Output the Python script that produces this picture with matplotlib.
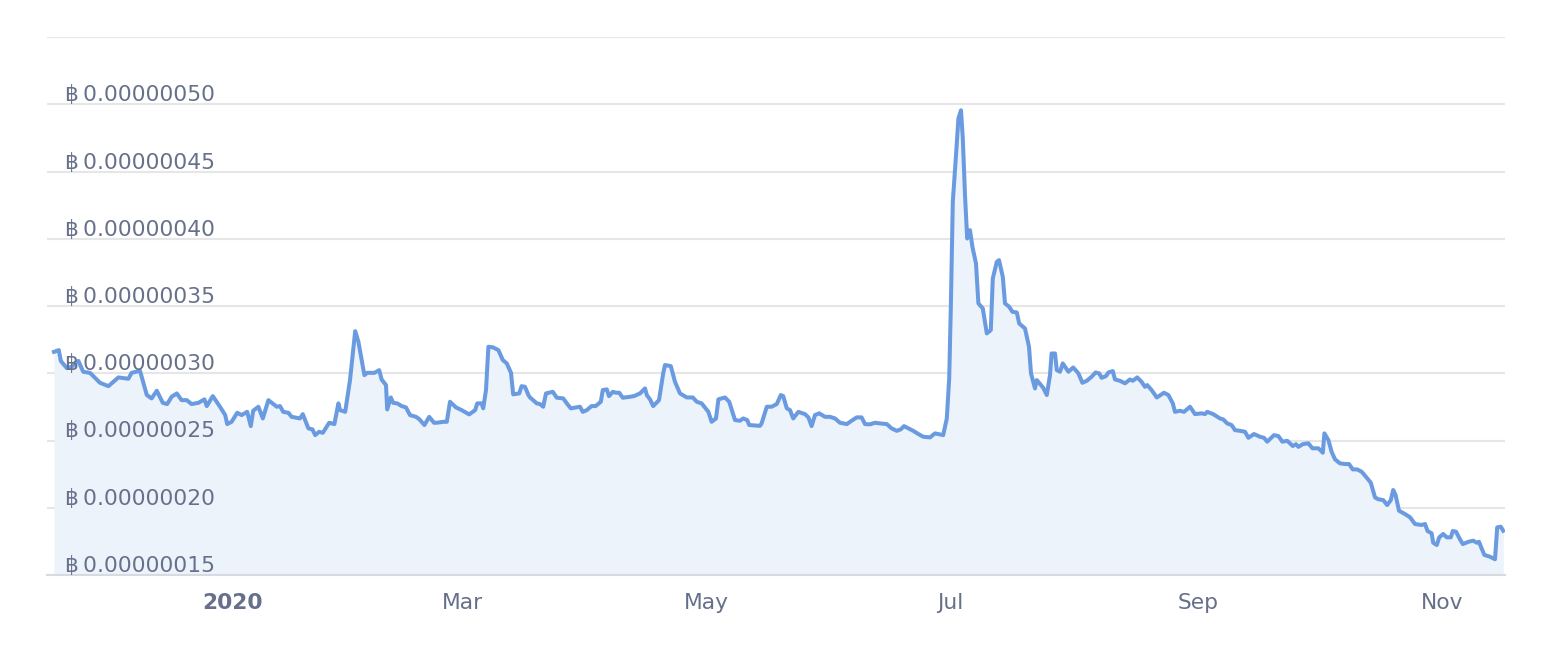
import numpy as np
import matplotlib
matplotlib.use('Agg')
import matplotlib.pyplot as plt
import matplotlib.dates as mdates
import matplotlib.transforms as mtransforms

# price, in satoshi (1e-8 BTC), at day offsets from start_date
start_date = np.datetime64('2019-11-20T00:00')

day_offsets = [
    0.0, 1.2, 1.7, 3.2, 4.4, 6.1, 7.3, 9.0, 11.5, 13.6, 16.1, 18.6, 19.4, 21.5,
    23.2, 24.4, 25.7, 27.2, 28.3, 29.4, 30.7, 31.9, 33.2, 34.4, 36.1, 37.6, 38.2,
    39.7, 41.5, 42.8, 43.3, 44.4, 45.8, 46.9, 48.3, 49.2, 49.8, 51.1, 52.2, 53.6,
    55.7, 56.5, 57.3, 58.6, 59.4, 61.5, 62.2, 63.6, 64.6, 65.3, 66.3, 67.2, 68.8,
    70.1, 71.1, 71.5, 72.8, 74.0, 75.3, 76.1, 77.6, 78.3, 80.1, 81.3, 81.9, 83.0,
    83.3, 84.2, 84.8, 85.8, 86.9, 88.0, 89.0, 90.5, 91.3, 92.6, 93.8, 95.0, 95.7,
    97.3, 98.2, 99.0, 100.5, 101.9, 103.8, 105.3, 105.8, 106.9, 107.3, 108.0,
    108.6, 109.8, 111.1, 112.2, 113.2, 114.25, 114.8, 116.3, 116.9, 117.75, 118.6,
    119.0, 120.7, 121.5, 122.3, 123.0, 124.7, 125.7, 127.3, 128.2, 129.2, 131.5,
    132.2, 133.2, 134.4, 135.4, 136.7, 137.2, 138.2, 138.75, 139.7, 140.5, 141.3,
    142.2, 144.0, 145.0, 146.5, 147.75, 148.2, 149.0, 149.8, 151.25, 152.3,
    152.75, 154.2, 155.25, 156.5, 158.2, 159.7, 160.7, 161.9, 163.6, 164.4,
    165.5, 166.1, 167.75, 168.8, 170.25, 171.5, 172.3, 173.3, 173.8, 176.5,
    176.9, 178.2, 179.4, 180.7, 181.7, 182.3, 183.2, 184.0, 184.8, 186.1, 187.75,
    188.6, 189.4, 190.25, 191.3, 192.75, 194.0, 195.25, 196.5, 198.2, 199.4,
    200.7, 201.9, 202.75, 204.0, 205.25, 206.5, 208.2, 209.4, 210.7, 211.7,
    212.5, 213.6, 214.8, 216.1, 217.3, 219.0, 220.25, 222.3, 223.2, 223.8, 224.2,
    224.7, 225.5, 226.1, 226.75, 227.2, 227.75, 228.3, 229.0, 229.6, 230.5,
    231.1, 232.2, 233.2, 234.2, 234.7, 235.7, 236.25, 237.2, 237.75, 238.8,
    239.6, 240.7, 241.3, 242.75, 243.75, 244.25, 245.25, 245.7, 247.3, 248.2,
    249.0, 249.4, 250.25, 250.7, 251.5, 252.2, 253.6, 254.8, 256.1, 257.1,
    258.2, 259.4, 260.4, 261.3, 261.9, 263.0, 263.6, 264.7, 265.25, 266.5,
    267.75, 269.0, 269.7, 270.8, 271.9, 272.75, 273.3, 274.4, 275.7, 277.5,
    278.6, 279.7, 280.25, 281.5, 282.5, 284.0, 285.25, 286.9, 287.75, 288.3,
    289.8, 291.5, 292.3, 293.3, 294.4, 295.25, 296.5, 297.75, 298.6, 300.0,
    301.5, 302.5, 303.3, 305.0, 306.1, 307.1, 308.3, 309.7, 310.5, 311.1, 312.2,
    313.6, 314.6, 316.1, 317.2, 317.6, 318.6, 319.4, 320.25, 321.5, 322.75,
    323.75, 324.7, 325.8, 326.9, 328.0, 329.2, 330.25, 331.1, 332.3, 333.3,
    334.2, 334.8, 335.4, 336.25, 337.75, 339.0, 340.25, 341.9, 342.75, 343.4,
    344.4, 344.8, 345.7, 346.3, 347.3, 348.2, 349.2, 349.7, 350.5, 351.5, 352.2,
    353.6, 354.8, 355.7, 356.25, 356.9, 357.6, 359.0, 360.25, 360.8, 361.7, 362.3,
]

price_sats = [
    31.59, 31.72, 30.92, 30.38, 30.48, 30.92, 30.11, 30.03, 29.29, 29.04, 29.69,
    29.59, 30.03, 30.18, 28.38, 28.13, 28.70, 27.80, 27.71, 28.25, 28.50, 28.00,
    28.00, 27.71, 27.80, 28.06, 27.56, 28.30, 27.51, 26.89, 26.22, 26.39, 27.06,
    26.89, 27.13, 26.07, 27.21, 27.51, 26.64, 28.00, 27.51, 27.56, 27.13, 27.06,
    26.76, 26.64, 26.96, 25.90, 25.83, 25.40, 25.65, 25.57, 26.32, 26.22, 27.76,
    27.26, 27.13, 29.49, 33.13, 32.34, 29.86, 30.03, 30.03, 30.23, 29.54, 29.12,
    27.31, 28.20, 27.80, 27.76, 27.56, 27.46, 26.89, 26.76, 26.59, 26.15, 26.76,
    26.32, 26.32, 26.39, 26.39, 27.88, 27.46, 27.26, 26.94, 27.26, 27.76, 27.76,
    27.39, 28.75, 31.97, 31.92, 31.72, 30.98, 30.73, 30.03, 28.43, 28.50, 29.04,
    28.99, 28.38, 28.20, 27.76, 27.71, 27.51, 28.50, 28.62, 28.18, 28.13, 27.76,
    27.39, 27.51, 27.13, 27.26, 27.56, 27.56, 27.88, 28.75, 28.80, 28.30, 28.62,
    28.55, 28.55, 28.18, 28.25, 28.30, 28.50, 28.87, 28.38, 28.06, 27.56, 28.00,
    29.99, 30.61, 30.53, 29.36, 28.50, 28.20, 28.20, 27.88, 27.76, 27.13, 26.39,
    26.64, 28.06, 28.20, 27.88, 26.52, 26.47, 26.64, 26.52, 26.15, 26.09, 26.27,
    27.51, 27.51, 27.71, 28.38, 28.30, 27.39, 27.26, 26.64, 27.13, 26.96, 26.72,
    26.07, 26.89, 27.02, 26.76, 26.76, 26.64, 26.32, 26.22, 26.47, 26.72, 26.72,
    26.22, 26.20, 26.32, 26.27, 26.22, 25.90, 25.72, 25.83, 26.07, 25.90, 25.72,
    25.48, 25.28, 25.23, 25.53, 25.40, 26.64, 29.62, 34.82, 42.74, 46.21, 48.94,
    49.55, 47.45, 43.24, 40.02, 40.64, 39.40, 38.16, 35.19, 34.82, 32.96, 33.21,
    37.05, 38.28, 38.41, 37.17, 35.19, 34.94, 34.57, 34.52, 33.70, 33.33, 31.97,
    29.99, 28.87, 29.49, 28.92, 28.38, 29.86, 31.47, 31.47, 30.23, 30.11, 30.73,
    30.11, 30.43, 29.99, 29.29, 29.44, 29.74, 30.06, 29.99, 29.66, 29.79, 30.06,
    30.16, 29.54, 29.44, 29.25, 29.54, 29.44, 29.69, 29.36, 28.99, 29.12, 28.75,
    28.20, 28.55, 28.38, 27.76, 27.13, 27.21, 27.13, 27.51, 26.96, 27.02, 26.96,
    27.13, 26.96, 26.64, 26.57, 26.27, 26.15, 25.77, 25.72, 25.65, 25.20, 25.48,
    25.28, 25.20, 24.91, 25.40, 25.33, 24.91, 24.98, 24.59, 24.73, 24.53, 24.73,
    24.79, 24.42, 24.42, 24.09, 25.53, 25.03, 24.16, 23.60, 23.30, 23.25, 23.25,
    22.85, 22.85, 22.68, 22.30, 21.86, 20.77, 20.63, 20.57, 20.20, 20.57, 21.32,
    20.94, 19.78, 19.53, 19.29, 18.79, 18.72, 18.79, 18.27, 18.10, 17.40, 17.23,
    17.80, 18.05, 17.80, 17.80, 18.27, 18.22, 17.65, 17.30, 17.47, 17.55, 17.40,
    17.47, 16.98, 16.49, 16.36, 16.17, 18.54, 18.59, 18.29,
]

y_ticks_sats = [15, 20, 25, 30, 35, 40, 45, 50, 55]
x_tick_dates = ['2020-01-01', '2020-03-01', '2020-05-01', '2020-07-01', '2020-09-01', '2020-11-01']
x_tick_labels = ['2020', 'Mar', 'May', 'Jul', 'Sep', 'Nov']

dates = start_date + (np.array(day_offsets) * 1440).astype('timedelta64[m]')
prices = np.array(price_sats) * 1e-8
y_ticks = np.array(y_ticks_sats) * 1e-8

line_color = '#6a9be0'
fill_color = '#edf3fb'
grid_color = '#e6e6e6'
text_color = '#66708a'

fig = plt.figure(figsize=(15.48, 6.72), dpi=100)
ax = fig.add_axes([47 / 1548, 1 - 575 / 672, 1458 / 1548, 538 / 672])

ax.fill_between(dates, prices, y_ticks[0], color=fill_color, lw=0, zorder=1)
ax.plot(dates, prices, color=line_color, lw=2.9, solid_joinstyle='round', zorder=3)

ax.set_ylim(y_ticks[0], y_ticks[-1])
ax.set_xlim(start_date - np.timedelta64(42, 'h'), start_date + np.timedelta64(362 * 24 + 18, 'h'))

ax.set_yticks(y_ticks)
ax.yaxis.grid(True, color=grid_color, lw=1.5, zorder=0)
ax.set_axisbelow(True)
ax.tick_params(axis='y', length=0, labelleft=False)

for s in ['top', 'left', 'right']:
    ax.spines[s].set_visible(False)
ax.spines['bottom'].set_color('#d7dae0')
ax.spines['bottom'].set_linewidth(1.5)

# y labels sit inside the plot, just above their grid line
lift = mtransforms.ScaledTranslation(0, 3 / 100, fig.dpi_scale_trans)
trans = mtransforms.blended_transform_factory(ax.transAxes, ax.transData) + lift
for v in y_ticks[:-1]:
    ax.text(18 / 1458, v, '฿\u2009%.8f' % v, transform=trans, ha='left', va='baseline',
            fontsize=15.7, color=text_color, family='DejaVu Sans', zorder=5)

ax.set_xticks(mdates.date2num(np.array(x_tick_dates, dtype='datetime64[D]')))
ax.set_xticklabels(x_tick_labels)
ax.tick_params(axis='x', length=0, pad=13, labelsize=15.7, labelcolor=text_color)
year_label = ax.get_xticklabels()[0]
year_label.set_fontweight('bold')
year_label.set_transform(year_label.get_transform()
                         + mtransforms.ScaledTranslation(11 / 100, 0, fig.dpi_scale_trans))

fig.savefig('out.png', dpi=100)
